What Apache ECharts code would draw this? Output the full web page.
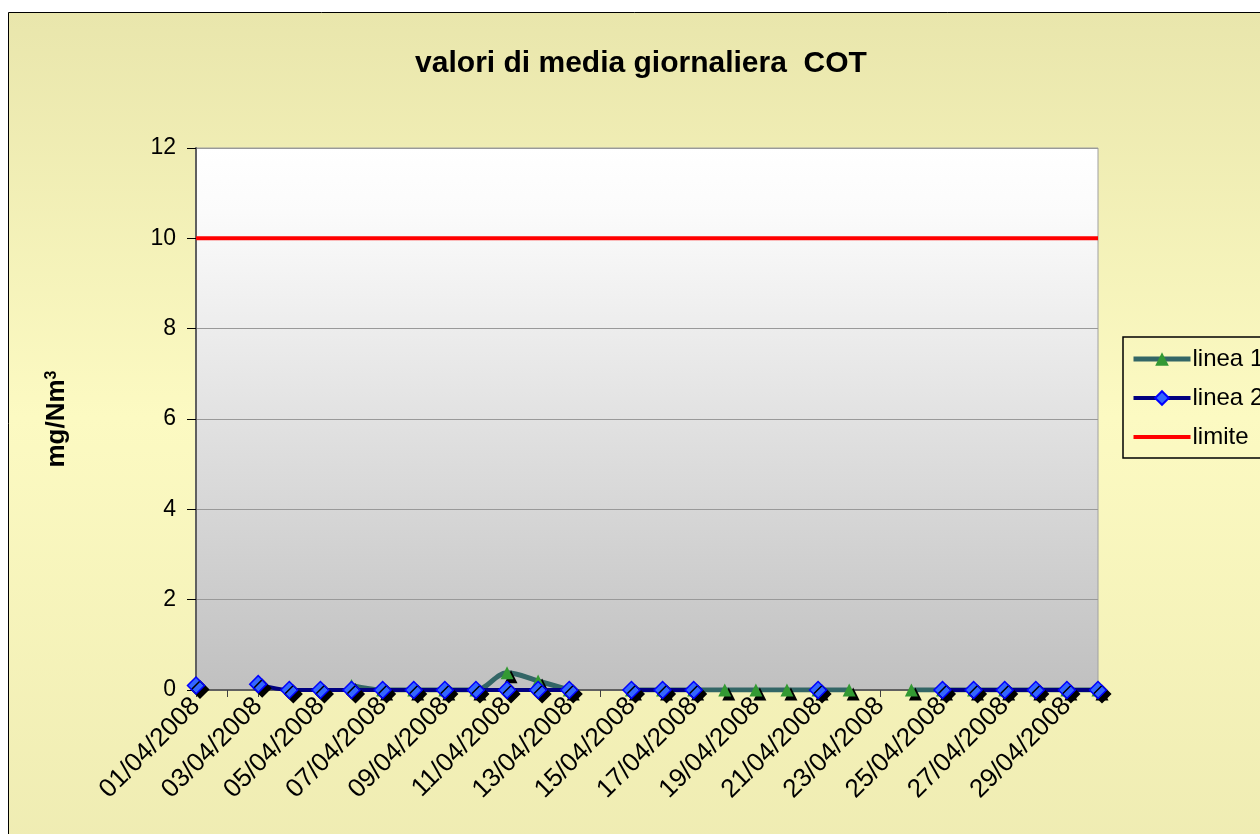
<!DOCTYPE html>
<html>
<head>
<meta charset="utf-8">
<title>valori di media giornaliera COT</title>
<script src="https://cdn.jsdelivr.net/npm/echarts@6/dist/echarts.min.js"></script>
<style>
  html, body { margin: 0; padding: 0; background: #fff; }
  #main { width: 1260px; height: 834px; }
</style>
</head>
<body>
<div id="main"></div>
<script>
// --- dati ---
const giorni = ['01/04/2008','02/04/2008','03/04/2008','04/04/2008','05/04/2008','06/04/2008',
    '07/04/2008','08/04/2008','09/04/2008','10/04/2008','11/04/2008','12/04/2008','13/04/2008',
    '14/04/2008','15/04/2008','16/04/2008','17/04/2008','18/04/2008','19/04/2008','20/04/2008',
    '21/04/2008','22/04/2008','23/04/2008','24/04/2008','25/04/2008','26/04/2008','27/04/2008',
    '28/04/2008','29/04/2008','30/04/2008'];
const linea1 = [null, null, null, null, null, 0.1, 0, 0, 0, 0, 0.38, 0.2, 0, null, 0,
    0, 0, 0, 0, 0, 0, 0, null, 0, 0, 0, 0, 0, 0, 0];
const linea2 = [0.1, null, 0.13, 0, 0, 0, 0, 0, 0, 0, 0, 0, 0, null, 0,
    0, 0, null, null, null, 0, null, null, null, 0, 0, 0, 0, 0, 0];
const limite = [10, 10, 10, 10, 10, 10, 10, 10, 10, 10, 10, 10, 10, 10, 10,
    10, 10, 10, 10, 10, 10, 10, 10, 10, 10, 10, 10, 10, 10, 10];
const yMin = 0, yMax = 12, yStep = 2;

const font = 'Liberation Sans, Arial, sans-serif';
const shadow = { shadowColor: '#000', shadowOffsetX: 4, shadowOffsetY: 4, shadowBlur: 0 };

const chart = echarts.init(document.getElementById('main'));
chart.setOption({
    backgroundColor: '#ffffff',
    animation: false,
    textStyle: { fontFamily: font, color: '#000' },
    graphic: [{
        type: 'rect', z: -10, silent: true,
        shape: { x: 8.5, y: 12.5, width: 1300, height: 900 },
        style: {
            fill: new echarts.graphic.LinearGradient(0, 0, 0, 1, [
                { offset: 0, color: '#e9e6ac' },
                { offset: 0.45, color: '#fcfac2' },
                { offset: 1, color: '#edeab0' }
            ]),
            stroke: '#000', lineWidth: 1
        }
    }],
    title: {
        text: 'valori di media giornaliera  COT',
        left: 636, top: 44, textAlign: 'center',
        textStyle: { fontFamily: font, fontSize: 30, fontWeight: 'bold', color: '#000' }
    },
    legend: {
        left: 1123, top: 337,
        orient: 'vertical',
        backgroundColor: 'transparent',
        borderColor: '#000', borderWidth: 1.5, borderRadius: 0,
        padding: [10, 10, 9, 8],
        itemWidth: 57, itemHeight: 17, itemGap: 15,
        textStyle: { fontFamily: font, fontSize: 24, color: '#000', padding: [0, 0, 0, -3] },
        data: [
            { name: 'linea 1', lineStyle: { width: 5 } },
            { name: 'linea 2', lineStyle: { width: 4 } },
            { name: 'limite', lineStyle: { width: 4 }, itemStyle: { opacity: 0 } }
        ]
    },
    grid: {
        left: 196, right: 162, top: 148, bottom: 144,
        show: true,
        borderColor: '#a0a0a0', borderWidth: 1,
        backgroundColor: new echarts.graphic.LinearGradient(0, 0, 0, 1, [
            { offset: 0, color: '#ffffff' },
            { offset: 0.12, color: '#fbfbfb' },
            { offset: 1, color: '#c0c0c0' }
        ])
    },
    xAxis: {
        type: 'category',
        data: giorni,
        boundaryGap: false,
        axisLine: { lineStyle: { color: '#606060', width: 2 } },
        axisTick: { show: true, length: 7, interval: 0, lineStyle: { color: '#404040' } },
        axisLabel: {
            interval: 1, rotate: 45, margin: 12,
            fontFamily: font, fontSize: 26, color: '#000'
        },
        splitLine: { show: false }
    },
    yAxis: {
        type: 'value',
        min: yMin, max: yMax, interval: yStep,
        name: 'mg/Nm{sup|3}',
        nameLocation: 'middle', nameRotate: 90, nameGap: 126,
        nameTextStyle: {
            fontFamily: font, fontSize: 26, fontWeight: 'bold', color: '#000',
            rich: { sup: { fontFamily: font, fontSize: 16, fontWeight: 'bold', color: '#000', verticalAlign: 'top', padding: [0, 0, 8, 0] } }
        },
        axisLine: { show: true, lineStyle: { color: '#606060', width: 2 } },
        axisTick: { show: true, length: 9, lineStyle: { color: '#000' } },
        axisLabel: { margin: 20, fontFamily: font, fontSize: 23, color: '#000' },
        splitLine: { lineStyle: { color: '#999999', width: 1 } }
    },
    series: [
        {
            name: 'limite', type: 'line', data: limite,
            symbol: 'none', z: 3,
            lineStyle: { color: '#ff0000', width: 4 },
            itemStyle: { color: '#ff0000' }
        },
        {
            name: 'linea 1', type: 'line', data: linea1,
            smooth: 0.35, connectNulls: false, z: 4,
            symbol: 'triangle', symbolSize: 13, showAllSymbol: true,
            lineStyle: { color: '#336666', width: 5 },
            itemStyle: Object.assign({ color: '#339933', borderColor: '#339933', borderWidth: 0 }, shadow)
        },
        {
            name: 'linea 2', type: 'line', data: linea2,
            smooth: 0.35, connectNulls: false, z: 5,
            symbol: 'diamond', symbolSize: 17, showAllSymbol: true,
            lineStyle: { color: '#000080', width: 4 },
            itemStyle: Object.assign({ color: '#3366ff', borderColor: '#0000ff', borderWidth: 1.5 }, shadow)
        }
    ]
});
</script>
</body>
</html>
